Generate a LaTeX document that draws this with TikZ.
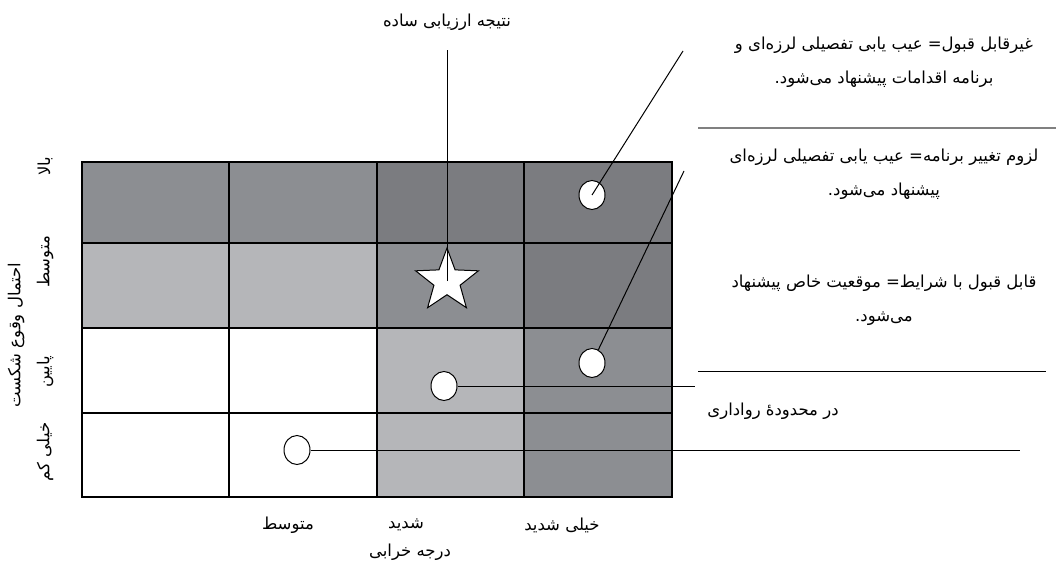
\documentclass[tikz,border=0pt]{standalone}
\usepackage{fontspec}
\usepackage{xcolor}
\usetikzlibrary{shapes.geometric}
\newfontfamily\farsifont[Script=Arabic]{DejaVu Sans}
\TeXXeTstate=1
\newcommand{\rtx}[1]{\beginR #1\endR}
\definecolor{celldark}{HTML}{7B7C80}
\definecolor{cellmid}{HTML}{8C8E92}
\definecolor{celllight}{HTML}{B5B6B9}
\tikzset{
  fa/.style={font=\farsifont\fontsize{16.5}{34}\selectfont, align=center, inner sep=0pt},
  dot/.style={ellipse, draw, fill=white, line width=1pt, minimum width=26pt, minimum height=29pt, inner sep=0pt},
  lead/.style={line width=1pt}
}

\begin{document}
\begin{tikzpicture}[x=1pt,y=-1pt]
\useasboundingbox (0,0) rectangle (1056,573);

% shaded cells
\fill[cellmid] (82,162) rectangle (377,243);
\fill[celldark] (377,162) rectangle (672,243);
\fill[celllight] (82,243) rectangle (377,328);
\fill[cellmid] (377,243) rectangle (524,328);
\fill[celldark] (524,243) rectangle (672,328);
\fill[celllight] (377,328) rectangle (524,497);
\fill[cellmid] (524,328) rectangle (672,497);

% grid lines
\draw[line width=1.2pt] (82,162) rectangle (672,497);
\foreach \x in {229,377,524} \draw[line width=1.2pt] (\x,162) -- (\x,497);
\foreach \y in {243,328,413} \draw[line width=1.2pt] (82,\y) -- (672,\y);
\draw[line width=2pt] (377,243) -- (377,497);

% markers
\node[dot] (hi) at (592,195) {};
\node[dot] (lo) at (592,363) {};
\node[dot] (tol) at (444,386) {};
\node[dot] (vlo) at (297,450) {};
\node[star, star points=5, star point ratio=2.4, minimum size=66pt, inner sep=0pt,
      draw, fill=white, line width=1pt] (res) at (447,281) {};

% leader ends
\coordinate (hiend) at (683,51);
\coordinate (loend) at (684,171);
\coordinate (resend) at (447,50);
\coordinate (tolend) at (695,386);
\coordinate (vloend) at (1020,452);

\draw[lead] (hi.center) -- (hiend);
\draw[lead] (lo) -- (loend);
\draw[lead] (res.center) -- (resend);
\draw[lead] (tol.east) -- (tolend);
\draw[lead] (vlo.east) -- (vlo.east -| vloend);

% separators on the right
\draw[gray, line width=1.5pt] (698,128) -- (1056,128);
\draw[lead] (698,371) -- (1046,371);

% labels
\node[fa] (restxt) at (447,22) {\rtx{نتیجه ارزیابی ساده}};
\node[fa] (hitxt) at (884,62) {\rtx{غیرقابل قبول= عیب یابی تفصیلی لرزه‌ای و}\\ \rtx{برنامه اقدامات پیشنهاد می‌شود.}};
\node[fa] (lotxt) at (884,174) {\rtx{لزوم تغییر برنامه= عیب یابی تفصیلی لرزه‌ای}\\ \rtx{پیشنهاد می‌شود.}};
\node[fa] (condtxt) at (884,300) {\rtx{قابل قبول با شرایط= موقعیت خاص پیشنهاد}\\ \rtx{می‌شود.}};
\node[fa] (toltxt) at (773,411) {\rtx{در محدودهٔ  رواداری}};

% axis labels
\node[fa] (xmid) at (288,525) {\rtx{متوسط}};
\node[fa] (xsev) at (406,525) {\rtx{شدید}};
\node[fa] (xvsev) at (562,525) {\rtx{خیلی شدید}};
\node[fa] (xaxis) at (410,552) {\rtx{درجه خرابی}};
\node[fa, rotate=90] (yhigh) at (45,166) {\rtx{بالا}};
\node[fa, rotate=90] (ymid) at (45,262) {\rtx{متوسط}};
\node[fa, rotate=90] (ylow) at (45,372) {\rtx{پایین}};
\node[fa, rotate=90] (yvlow) at (45,452) {\rtx{خیلی کم}};
\node[fa, rotate=90] (yaxis) at (16,335) {\rtx{احتمال وقوع شکست}};
\end{tikzpicture}
\end{document}
